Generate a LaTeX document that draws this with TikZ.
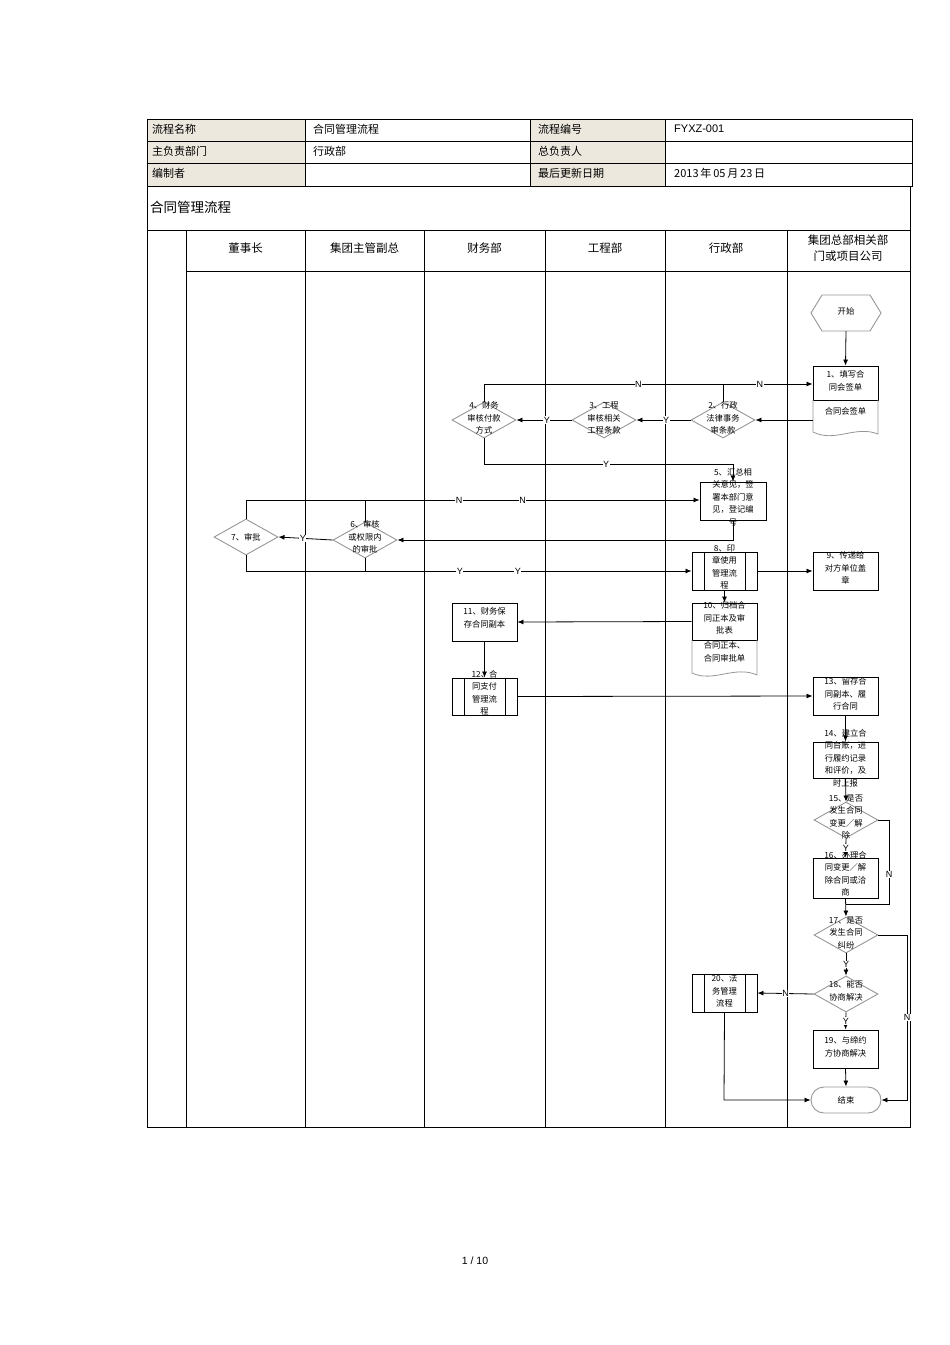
\documentclass[tikz,border=0pt]{standalone}
\usepackage{fontspec}
\setmainfont{Liberation Sans}
\newfontfamily\cjk{Noto Sans CJK SC}
\usetikzlibrary{shapes.geometric,arrows.meta}
\definecolor{hdr}{RGB}{236,232,222}
\definecolor{dgray}{RGB}{150,150,150}
\begin{document}
\begin{tikzpicture}[x=1pt,y=-1pt,
  txt/.style={font=\cjk\fontsize{8.3}{12.5}\selectfont,align=center,inner sep=0},
  box/.style={draw,line width=0.9pt,minimum width=65pt,minimum height=#1,inner sep=0},
  dia/.style={draw=dgray,line width=0.9pt,diamond,minimum width=64pt,minimum height=36pt,inner sep=0,aspect=1.8},
  arr/.style={line width=0.8pt,-{Latex[length=6pt,width=5pt]}},
  ln/.style={line width=0.8pt},
  yn/.style={font=\fontsize{9}{10}\selectfont,fill=white,inner sep=0.5pt},
  ht/.style={font=\cjk\fontsize{11}{12}\selectfont,anchor=west,inner sep=0}]
\useasboundingbox (0,0) rectangle (950,1345);
% header table
\fill[hdr] (147,119) rectangle (305,186);
\fill[hdr] (530,119) rectangle (665,186);
\draw[line width=0.7pt] (147,119) rectangle (912,186);
\foreach \y in {141,163} \draw[line width=0.7pt] (147,\y)--(912,\y);
\foreach \x in {305,530,665} \draw[line width=0.7pt] (\x,119)--(\x,186);
\node[ht] (h1) at (152,129) {流程名称};
\node[ht] (h2) at (313,129) {合同管理流程};
\node[ht] (h3) at (538,129) {流程编号};
\node[ht,font=\fontsize{11}{12}\selectfont] (h4) at (674,129) {FYXZ-001};
\node[ht] (h5) at (152,151) {主负责部门};
\node[ht] (h6) at (313,151) {行政部};
\node[ht] (h7) at (538,151) {总负责人};
\node[ht] (h8) at (152,173) {编制者};
\node[ht] (h9) at (538,173) {最后更新日期};
\node[ht] (h10) at (674,173) {2013\,年\,05\,月\,23\,日};
% frame
\draw[line width=0.7pt] (147,186) rectangle (910,1127);
\node[ht,font=\cjk\fontsize{13.5}{14}\selectfont] (title) at (150,207) {合同管理流程};
\draw[line width=0.7pt] (147,230)--(910,230);
\draw[line width=0.7pt] (186,271)--(910,271);
\foreach \x in {186,305,424,545,665,787} \draw[line width=0.7pt] (\x,230)--(\x,1127);
\tikzset{lh/.style={font=\cjk\fontsize{11.5}{16}\selectfont,align=center,inner sep=0}}
\node[lh] (l1) at (245.5,248) {董事长};
\node[lh] (l2) at (364.5,248) {集团主管副总};
\node[lh] (l3) at (484.5,248) {财务部};
\node[lh] (l4) at (605,248) {工程部};
\node[lh] (l5) at (726,248) {行政部};
\node[lh] (l6) at (848,248) {集团总部相关部\\门或项目公司};
% start
\node[minimum width=70pt,minimum height=36pt,inner sep=0] (st) at (846,313) {};
\draw[dgray,line width=0.9pt] (811,313)--(822,295)--(870,295)--(881,313)--(870,331)--(822,331)--cycle;
\node[txt] at (846,311) {开始};
% node 1
\node[box=34pt] (n1) at (845.5,383) {};
\draw[dgray,line width=0.8pt] (813,400)--(813,432) .. controls (835,443) and (855,425) .. (878,434)--(878,400);
\node[txt] at (845.5,381) {1、填写合\\同会签单};
\node[txt] (doc1) at (845.5,411) {合同会签单};
% diamonds row
\node[dia] (d2) at (723,420) {};
\node[txt] at (723,418) {2、行政\\法律事务\\审条款};
\node[dia] (d3) at (604,420) {};
\node[txt] at (604,418) {3、工程\\审核相关\\工程条款};
\node[dia] (d4) at (484,420) {};
\node[txt] at (484,418) {4、财务\\审核付款\\方式};
\node[box=38pt,minimum width=66pt] (n5) at (733,501) {};
\node[txt] at (733,497) {5、汇总相\\关意见，签\\署本部门意\\见，登记编\\号};
\node[dia] (d6) at (365,540) {};
\node[txt] at (365,537) {6、审核\\或权限内\\的审批};
\node[dia] (d7) at (246,537) {};
\node[txt] at (246,537) {7、审批};
\node[box=38pt] (n8) at (724.5,571) {};
\draw[line width=0.9pt] (704,552)--(704,590) (745,552)--(745,590);
\node[txt] at (724.5,567) {8、印\\章使用\\管理流\\程};
\node[box=38pt] (n9) at (845.5,571) {};
\node[txt] at (845.5,568) {9、传递给\\对方单位盖\\章};
\node[box=37pt] (n10) at (724.5,621.5) {};
\draw[dgray,line width=0.8pt] (692,640)--(692,673) .. controls (713,683) and (735,665) .. (757,675)--(757,640);
\node[txt] at (724.5,618) {10、归档合\\同正本及审\\批表};
\node[txt] at (724.5,652) {合同正本、\\合同审批单};
\node[box=38pt] (n11) at (484.5,622) {};
\node[txt] at (484.5,618) {11、财务保\\存合同副本};
\node[box=37pt] (n12) at (484.5,696.5) {};
\draw[line width=0.9pt] (464,678)--(464,715) (505,678)--(505,715);
\node[txt] at (484.5,693) {12、合\\同支付\\管理流\\程};
\node[box=38pt] (n13) at (845.5,696) {};
\node[txt] at (845.5,694) {13、留存合\\同副本、履\\行合同};
\node[box=36pt] (n14) at (845.5,760) {};
\node[txt] at (845.5,758) {14、建立合\\同台账，进\\行履约记录\\和评价，及\\时上报};
\node[dia] (d15) at (846,820) {};
\node[txt] at (846,817) {15、是否\\发生合同\\变更／解\\除};
\node[box=40pt] (n16) at (845.5,878) {};
\node[txt] at (845.5,874) {16、办理合\\同变更／解\\除合同或洽\\商};
\node[dia] (d17) at (846,935) {};
\node[txt] at (846,933) {17、是否\\发生合同\\纠纷};
\node[dia] (d18) at (846,994) {};
\node[txt] at (846,991) {18、能否\\协商解决};
\node[box=38pt] (n20) at (724.5,993) {};
\draw[line width=0.9pt] (704,974)--(704,1012) (745,974)--(745,1012);
\node[txt] at (724.5,991) {20、法\\务管理\\流程};
\node[box=38pt] (n19) at (845.5,1049) {};
\node[txt] at (845.5,1047) {19、与缔约\\方协商解决};
\node[draw=dgray,line width=0.9pt,rounded corners=13pt,minimum width=70pt,minimum height=26pt,inner sep=0] (en) at (846,1100) {};
\node[txt] at (846,1100) {结束};
% connectors
\draw[arr] (st.south)--(n1.north);
\draw[arr] (813,420)--(d2.east);
\draw[arr] (d2.west)--node[yn,pos=0.45]{Y}(d3.east);
\draw[arr] (d3.west)--node[yn,pos=0.45]{Y}(d4.east);
\draw[arr] (d4.north)--(484,384)--node[yn,pos=0.47]{N}node[yn,pos=0.84]{N}(n1.west|-0,384);
\draw[ln] (d2.north)--(723,384);
\draw[arr] (d4.south)--(484,464)--node[yn,pos=0.49]{Y}(733,464)--(n5.north);
\draw[arr] (d7.north)--(246,500)--node[yn,pos=0.47]{N}node[yn,pos=0.61]{N}(n5.west|-0,500);
\draw[ln] (d6.north)--(365,500);
\draw[arr] (n5.south)--(733,540)--(d6.east);
\draw[arr] (d6.west)--node[yn,pos=0.55]{Y}(d7.east);
\draw[arr] (d7.south)--(246,571)--node[yn,pos=0.48]{Y}node[yn,pos=0.61]{Y}(n8.west);
\draw[ln] (d6.south)--(365,571);
\draw[arr] (n8.east)--(n9.west);
\draw[arr] (n8.south)--(n10.north);
\draw[arr] (n10.west)--(n11.east);
\draw[arr] (n11.south)--(n12.north);
\draw[arr] (n12.east)--(n13.west);
\draw[arr] (n13.south)--(n14.north);
\draw[arr] (n14.south)--(d15.north);
\draw[arr] (d15.south)--node[yn,pos=0.5]{Y}(n16.north);
\draw[ln] (d15.east)--(889,820)--node[yn,pos=0.65]{N}(889,904)--(846,904);
\draw[arr] (n16.south)--(d17.north);
\draw[arr] (d17.south)--node[yn,pos=0.5]{Y}(d18.north);
\draw[arr] (d17.east)--(907,935)--node[yn,pos=0.5]{N}(907,1100)--(en.east);
\draw[arr] (d18.west)--node[yn,pos=0.5]{N}(n20.east);
\draw[arr] (d18.south)--node[yn,pos=0.5]{Y}(n19.north);
\draw[arr] (n19.south)--(en.north);
\draw[arr] (n20.south)--(724,1100)--(en.west);
\node[font=\fontsize{10.5}{12}\selectfont] (pg) at (475,1261) {1 / 10};
\end{tikzpicture}
\end{document}
